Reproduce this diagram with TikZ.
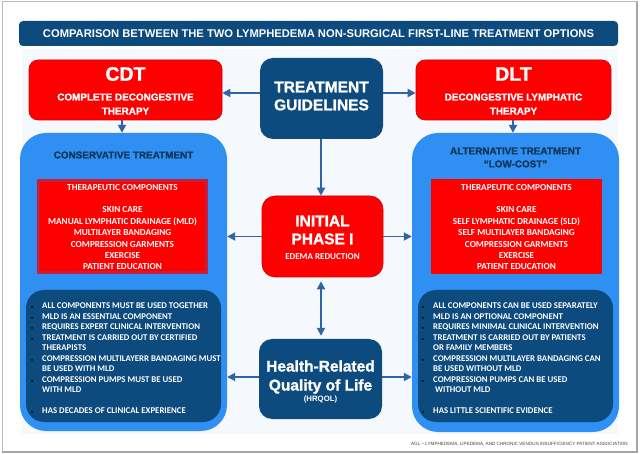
\documentclass[tikz,border=0pt]{standalone}
\usepackage{fontspec}
\setmainfont{Liberation Sans}
\newfontfamily\condfont{Carlito}
\newfontfamily\heavyfont{Liberation Sans}[BoldFeatures={FakeBold=1.3}]
\usetikzlibrary{arrows.meta,positioning}

\definecolor{navy}{HTML}{0D4A7E}
\definecolor{tabred}{HTML}{FF0000}
\definecolor{edgered}{HTML}{C4203E}
\definecolor{skyblue}{HTML}{2F8FF2}
\definecolor{arrowblue}{HTML}{2F65A6}
\definecolor{panel}{HTML}{F5F8FD}
\definecolor{headnavy}{HTML}{10375C}

\newcommand\bul{\llap{\textcolor{black}{\fontsize{4}{4}\selectfont\textbullet}\hspace{9pt}}}

\tikzset{
  arr/.style={draw=arrowblue,line width=1.8pt,-{Triangle[length=8pt,width=8pt]}},
  redbox/.style={fill=tabred,draw=red!80!black,line width=0.6pt,rounded corners=9pt},
  navybox/.style={fill=navy,rounded corners=13pt},
  bigtxt/.style={text=white,font=\heavyfont\bfseries\fontsize{15.5}{18}\selectfont,align=center,inner sep=0pt},
  subtxt/.style={text=white,font=\heavyfont\bfseries\fontsize{9.9}{14}\selectfont,align=center,inner sep=0pt},
  sectxt/.style={text=headnavy,font=\heavyfont\bfseries\fontsize{9.9}{13}\selectfont,align=center,inner sep=0pt},
  comptxt/.style={text=white,font=\condfont\bfseries\fontsize{9.2}{11.4}\selectfont,align=center,inner sep=0pt},
  notetxt/.style={text=white,font=\condfont\bfseries\fontsize{8.8}{10.5}\selectfont,align=left,anchor=west,inner sep=0pt}
}

\begin{document}
\begin{tikzpicture}[x=1pt,y=-1pt]
\useasboundingbox (0,0) rectangle (640,454);
\fill[white] (0,0) rectangle (640,454);
% frame and background panel
\draw[gray!55,line width=1pt] (2,2) rectangle (637,452);
\draw[gray!70,line width=2pt] (637,2) -- (637,452) -- (2,452);
\fill[panel] (22,49) rectangle (618,434);

% title
\node[fill=navy,rounded corners=4pt,minimum width=599pt,minimum height=25pt] (title) at (318.5,33.5)
  {\textcolor{white}{\bfseries\fontsize{11.2}{13}\selectfont COMPARISON BETWEEN THE TWO LYMPHEDEMA NON-SURGICAL FIRST-LINE TREATMENT OPTIONS}};

% top row
\node[redbox,minimum width=193pt,minimum height=60pt] (cdt) at (125.5,90) {};
\node[bigtxt,font=\heavyfont\bfseries\fontsize{19.5}{22}\selectfont] (cdtT) at (125.5,74) {CDT};
\node[subtxt] (cdtS) at (125.5,104) {COMPLETE DECONGESTIVE\\THERAPY};

\node[navybox,minimum width=123pt,minimum height=81pt] (tg) at (321.5,98.5) {};
\node[bigtxt] (tgT) at (321.5,96) {TREATMENT\\GUIDELINES};

\node[redbox,minimum width=195pt,minimum height=60pt] (dlt) at (513.5,90) {};
\node[bigtxt,font=\heavyfont\bfseries\fontsize{19.5}{22}\selectfont] (dltT) at (513.5,74) {DLT};
\node[subtxt] (dltS) at (513.5,104) {DECONGESTIVE LYMPHATIC\\THERAPY};

% side columns
\node[fill=skyblue,rounded corners=26pt,minimum width=207pt,minimum height=298pt] (lbox) at (123.5,282) {};
\node[fill=skyblue,rounded corners=26pt,minimum width=207pt,minimum height=299pt] (rbox) at (515.5,282.5) {};
\node[sectxt] (lhead) at (123.5,155) {CONSERVATIVE TREATMENT};
\node[sectxt] (rhead) at (515.5,157.5) {ALTERNATIVE TREATMENT\\“LOW-COST”};

\node[fill=tabred,draw=edgered,line width=3pt,minimum width=168pt,minimum height=92pt] (lred) at (122.5,226.5) {};
\node[comptxt] (lcomp) at (122.5,227) {THERAPEUTIC COMPONENTS\\[11.4pt]
  SKIN CARE\\MANUAL LYMPHATIC DRAINAGE (MLD)\\MULTILAYER BANDAGING\\
  COMPRESSION GARMENTS\\EXERCISE\\PATIENT EDUCATION};
\node[fill=tabred,minimum width=171pt,minimum height=95pt] (rred) at (516.5,226.5) {};
\node[comptxt] (rcomp) at (516.5,227) {THERAPEUTIC COMPONENTS\\[11.4pt]
  SKIN CARE\\SELF LYMPHATIC DRAINAGE (SLD)\\SELF MULTILAYER BANDAGING\\
  COMPRESSION GARMENTS\\EXERCISE\\PATIENT EDUCATION};

\node[fill=navy,rounded corners=18pt,minimum width=195pt,minimum height=132pt] (ldark) at (123.5,356) {};
\node[notetxt] (lnote) at (42,358.5) {\bul ALL COMPONENTS MUST BE USED TOGETHER\\
  \bul MLD IS AN ESSENTIAL COMPONENT\\
  \bul REQUIRES EXPERT CLINICAL INTERVENTION\\
  \bul TREATMENT IS CARRIED OUT BY CERTIFIED\\
  THERAPISTS\\
  \bul COMPRESSION MULTILAYERR BANDAGING MUST\\
  BE USED WITH MLD\\
  \bul COMPRESSION PUMPS MUST BE USED\\
  WITH MLD\\[10.5pt]
  \bul HAS DECADES OF CLINICAL EXPERIENCE};
\node[fill=navy,rounded corners=18pt,minimum width=195pt,minimum height=132pt] (rdark) at (515.5,356) {};
\node[notetxt] (rnote) at (433,358.5) {\bul ALL COMPONENTS CAN BE USED SEPARATELY\\
  \bul MLD IS AN OPTIONAL COMPONENT\\
  \bul REQUIRES MINIMAL CLINICAL INTERVENTION\\
  \bul TREATMENT IS CARRIED OUT BY PATIENTS\\
  OR FAMILY MEMBERS\\
  \bul COMPRESSION MULTILAYER BANDAGING CAN\\
  BE USED WITHOUT MLD\\
  \bul COMPRESSION PUMPS CAN BE USED\\
  \hspace{2pt}WITHOUT MLD\\[10.5pt]
  \bul HAS LITTLE SCIENTIFIC EVIDENCE};

% centre column
\node[redbox,rounded corners=13pt,minimum width=121pt,minimum height=81pt] (ip) at (322.5,236.5) {};
\node[bigtxt] (ipT) at (322.5,230) {INITIAL\\PHASE I};
\node[text=white,font=\condfont\bfseries\fontsize{9}{10}\selectfont,inner sep=0pt] (ipS) at (322.5,257) {EDEMA REDUCTION};

\node[navybox,minimum width=123pt,minimum height=80pt] (hq) at (320.5,379) {};
\node[bigtxt,font=\heavyfont\bfseries\fontsize{15.5}{19}\selectfont] (hqT) at (320.5,377) {Health-Related\\Quality of Life};
\node[text=white,font=\bfseries\fontsize{7.8}{9}\selectfont,inner sep=0pt] (hqS) at (320.5,399) {(HRQOL)};

% connectors
\draw[arr] (tg.west |- 0,93) -- (cdt.east |- 0,93);
\draw[arr] (tg.east |- 0,93) -- (dlt.west |- 0,93);
\draw[arr] (cdt.south -| 122,0) -- (lbox.north -| 122,0);
\draw[arr] (dlt.south -| 513,0) -- (rbox.north -| 513,0);
\draw[arr] (tg.south -| 321,0) -- (ip.north -| 321,0);
\draw[arr] (ip.west) -- (ip.west -| lbox.east);
\draw[arr] (ip.east) -- (ip.east -| rbox.west);
\draw[arr,{Triangle[length=8pt,width=8pt]}-{Triangle[length=8pt,width=8pt]},shorten <=4pt,shorten >=3pt] (ip.south -| 321,0) -- (hq.north -| 321,0);
\draw[arr] (hq.west |- 0,377) -- (lbox.east |- 0,377);
\draw[arr] (hq.east |- 0,377) -- (rbox.west |- 0,377);

% footer
\node[anchor=east,text=black!75,font=\fontsize{4.6}{5}\selectfont,inner sep=0pt] (foot) at (628,444)
  {AGL – LYMPHEDEMA, LIPEDEMA, AND CHRONIC VENOUS INSUFFICIENCY PATIENT ASSOCIATION};
\end{tikzpicture}
\end{document}
